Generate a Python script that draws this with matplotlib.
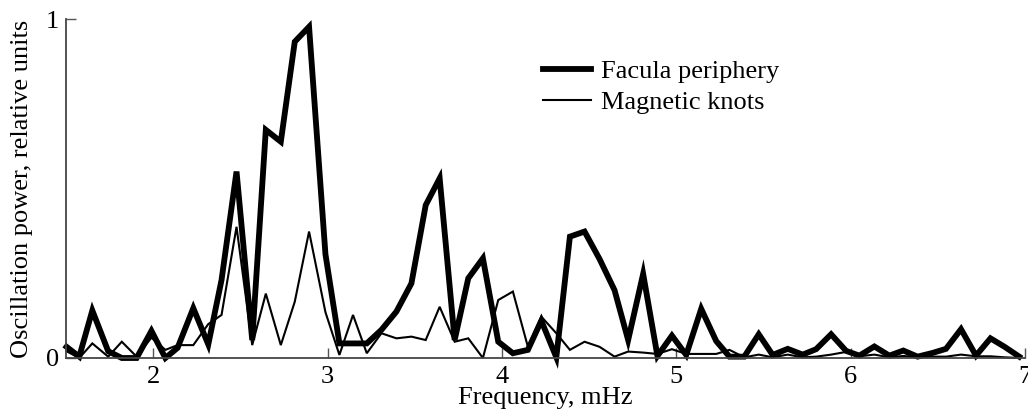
import matplotlib
matplotlib.use("Agg")
import matplotlib.pyplot as plt

plt.rcParams['font.family'] = ['Liberation Serif', 'DejaVu Serif']
plt.rcParams['mathtext.fontset'] = 'stix'

freq = [1.503, 1.576, 1.651, 1.742, 1.820, 1.905, 1.990, 2.070, 2.140, 2.230,
        2.316, 2.392, 2.478, 2.568, 2.646, 2.732, 2.812, 2.894, 2.988, 3.068,
        3.146, 3.225, 3.309, 3.395, 3.481, 3.563, 3.643, 3.729, 3.807, 3.891,
        3.979, 4.063, 4.149, 4.226, 4.312, 4.390, 4.474, 4.560, 4.646, 4.724,
        4.810, 4.892, 4.975, 5.057, 5.143, 5.229, 5.305, 5.390, 5.473, 5.553,
        5.639, 5.725, 5.802, 5.888, 5.974, 6.050, 6.136, 6.222, 6.302, 6.384,
        6.470, 6.547, 6.633, 6.719, 6.802, 6.883, 6.967]

facula = [0.033, 0.004, 0.140, 0.020, 0.000, 0.000, 0.080, 0.000, 0.030, 0.147,
          0.040, 0.230, 0.550, 0.053, 0.673, 0.638, 0.933, 0.977, 0.306, 0.043,
          0.043, 0.043, 0.083, 0.137, 0.220, 0.451, 0.530, 0.053, 0.235, 0.294,
          0.048, 0.014, 0.024, 0.110, 0.002, 0.358, 0.373, 0.292, 0.200, 0.053,
          0.248, 0.006, 0.066, 0.009, 0.145, 0.050, 0.004, 0.004, 0.070, 0.009,
          0.027, 0.010, 0.026, 0.070, 0.021, 0.007, 0.034, 0.007, 0.022, 0.004,
          0.015, 0.027, 0.085, 0.007, 0.058, 0.033, 0.004]

knots = [0.020, 0.000, 0.043, 0.004, 0.048, 0.004, 0.060, 0.024, 0.038, 0.038,
         0.100, 0.127, 0.387, 0.038, 0.190, 0.038, 0.166, 0.373, 0.135, 0.009,
         0.127, 0.014, 0.073, 0.058, 0.063, 0.053, 0.151, 0.048, 0.058, 0.000,
         0.171, 0.196, 0.033, 0.122, 0.073, 0.024, 0.048, 0.033, 0.004, 0.019,
         0.016, 0.012, 0.026, 0.012, 0.012, 0.012, 0.024, 0.002, 0.010, 0.002,
         0.010, 0.002, 0.004, 0.010, 0.018, 0.005, 0.010, 0.002, 0.006, 0.002,
         0.004, 0.004, 0.010, 0.005, 0.005, 0.002, 0.000]

series_labels = ["Facula periphery", "Magnetic knots"]
xticks = [2, 3, 4, 5, 6, 7]
yticks = [0, 1]

fig = plt.figure(figsize=(10.28, 4.20), dpi=100)
ax = fig.add_axes([66/1028, 1 - 358/420, (1025 - 66)/1028, (358 - 19)/420])

ax.plot(freq, facula, color='black', lw=4.2, solid_joinstyle='miter',
        label=series_labels[0], clip_on=False)
ax.plot(freq, knots, color='black', lw=1.5, solid_joinstyle='miter',
        label=series_labels[1], clip_on=False)

ax.set_xlim(1.5, 7)
ax.set_ylim(0, 1)
ax.set_xticks(xticks)
ax.set_xticklabels([str(t) for t in xticks])
ax.set_yticks(yticks)
ax.set_yticklabels([str(t) for t in yticks])

for s in ['top', 'right']:
    ax.spines[s].set_visible(False)
for s in ['left', 'bottom']:
    ax.spines[s].set_color('#444444')
    ax.spines[s].set_linewidth(1.3)

ax.tick_params(direction='in', length=7, width=1, color='#555555',
               labelsize=19, labelcolor='black')
ax.tick_params(axis='x', pad=6)
ax.tick_params(axis='y', pad=5)

ax.set_xlabel("Frequency, mHz", fontsize=19, labelpad=-1)
ax.set_ylabel("Oscillation power, relative units", fontsize=19, labelpad=9)

leg = ax.legend(loc='upper left', bbox_to_anchor=(543/1028, 1 - 60/420),
                bbox_transform=fig.transFigure, frameon=False, fontsize=19,
                handlelength=1.8, handletextpad=0.4, labelspacing=0.27,
                borderpad=0, borderaxespad=0)

fig.savefig("out.png", dpi=100)
